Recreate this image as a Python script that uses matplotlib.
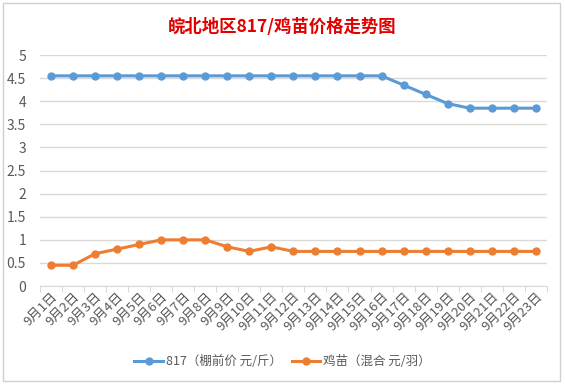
import matplotlib.pyplot as plt
from matplotlib.patches import Rectangle

plt.rcParams['font.family'] = ['Noto Sans CJK SC', 'DejaVu Sans']

# datos
fechas = ['9月%d日' % d for d in range(1, 24)]
precio_817 = [4.55] * 16 + [4.35, 4.15, 3.95, 3.85, 3.85, 3.85, 3.85]
precio_pollito = [0.45, 0.45, 0.7, 0.8, 0.9, 1.0, 1.0, 1.0, 0.85, 0.75, 0.85,
                  0.75, 0.75, 0.75, 0.75, 0.75, 0.75, 0.75, 0.75, 0.75, 0.75, 0.75, 0.75]
nombres = ['817（棚前价 元/斤）', '鸡苗（混合 元/羽）']

gris = '#595959'

fig = plt.figure(figsize=(5.65, 3.85), dpi=100)
fig.patches.append(Rectangle((0.006, 0.01), 0.985, 0.983, transform=fig.transFigure,
                             fill=False, edgecolor='#d0d0d0', lw=1))

ax = fig.add_axes([0.0708, 0.257, 0.897, 0.6])
x = range(len(fechas))
ax.plot(x, precio_817, color='#5B9BD5', lw=2.2, marker='o', ms=5, label=nombres[0])
ax.plot(x, precio_pollito, color='#ED7D31', lw=2.2, marker='o', ms=5, label=nombres[1])

ax.set_xlim(-0.5, len(fechas) - 0.5)
ax.set_ylim(0, 5)
ax.set_yticks([0, 0.5, 1, 1.5, 2, 2.5, 3, 3.5, 4, 4.5, 5])
ax.set_yticklabels(['0', '0.5', '1', '1.5', '2', '2.5', '3', '3.5', '4', '4.5', '5'])
ax.grid(axis='y', color='#d9d9d9', lw=1)
ax.set_axisbelow(True)
for s in ['top', 'right', 'left']:
    ax.spines[s].set_visible(False)
ax.spines['bottom'].set_color('#d9d9d9')

ax.set_xticks([i - 0.5 for i in range(len(fechas) + 1)])
ax.set_xticklabels([])
ax.set_xticks(list(x), minor=True)
ax.set_xticklabels(fechas, minor=True, rotation=45, ha='right', va='top',
                   rotation_mode='anchor', fontsize=9.5, color=gris)
ax.tick_params(axis='x', which='major', length=4, color='#d9d9d9')
ax.tick_params(axis='x', which='minor', length=0, pad=3)
ax.tick_params(axis='y', length=0, labelsize=10, labelcolor=gris, pad=10)

fig.text(0.5, 0.93, '皖北地区817/鸡苗价格走势图', ha='center', va='center',
         fontsize=12.5, fontweight='bold', color='#e00000')

fig.legend(loc='center', bbox_to_anchor=(0.5, 0.06), ncol=2, frameon=False,
           fontsize=9, labelcolor=gris, handlelength=2.3, columnspacing=0.8,
           handletextpad=0.2)

plt.savefig('out.png', dpi=100)
